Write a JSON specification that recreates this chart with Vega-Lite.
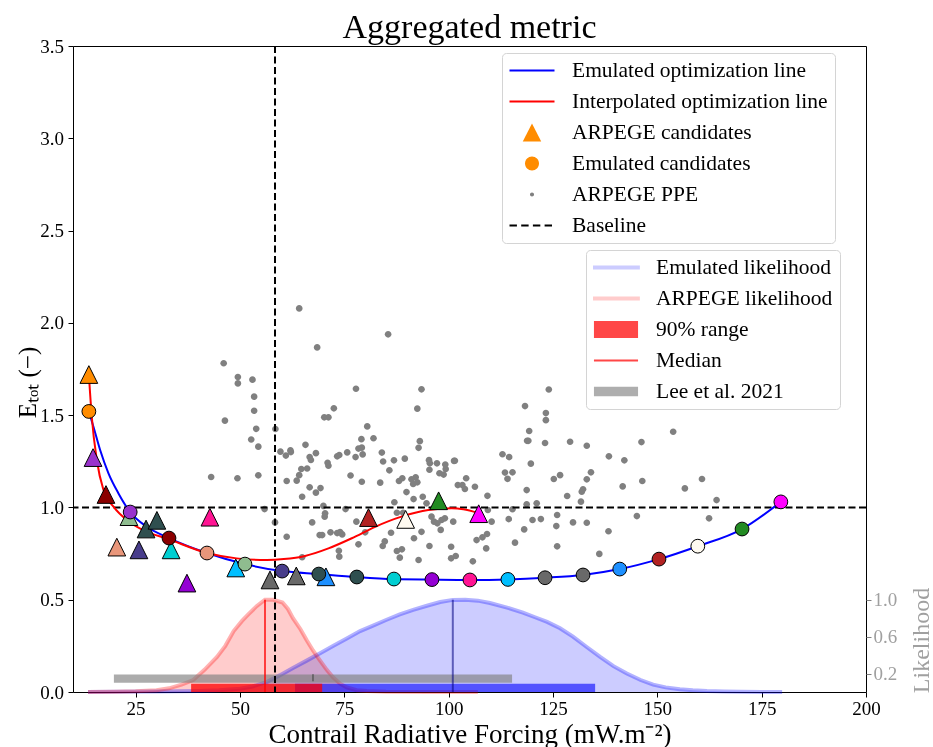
{
"$schema": "https://vega.github.io/schema/vega-lite/v6.json",
"width": 793, "height": 646,
"autosize": {"type": "none"},
"padding": {"left": 73, "top": 46, "right": 67, "bottom": 55},
"background": "white",
"title": {"text": "Aggregated metric", "frame": "group", "anchor": "middle", "baseline": "alphabetic", "offset": 9, "dy": 44, "fontSize": 34, "font": "Liberation Serif", "fontWeight": "normal", "color": "black"},
"config": {
  "font": "Liberation Serif",
  "view": {"stroke": "black", "strokeWidth": 1},
  "axis": {"grid": false, "domain": false, "tickColor": "black", "tickSize": 5, "tickWidth": 1, "labelFont": "Liberation Serif", "labelFontSize": 19, "labelColor": "black", "titleFont": "Liberation Serif", "titleFontSize": 25, "titleFontWeight": "normal", "titleColor": "black", "labelFlush": false, "labelOverlap": false},
  "legend": {"labelFont": "Liberation Serif", "labelFontSize": 21.5, "labelColor": "black", "labelLimit": 400, "symbolSize": 2025, "clipHeight": 21, "symbolOffset": 0, "labelOffset": 17, "rowPadding": 9, "padding": 7, "fillColor": "white", "strokeColor": "#d4d4d4", "cornerRadius": 4, "symbolStrokeWidth": 1, "orient": "none"}
},
"datasets": {
  "ppe": [
    {"series":"ARPEGE PPE","x":46.1,"y":1.781},{"series":"ARPEGE PPE","x":49.5,"y":1.706},{"series":"ARPEGE PPE","x":49.5,"y":1.672},{"series":"ARPEGE PPE","x":53.0,"y":1.692},{"series":"ARPEGE PPE","x":53.4,"y":1.600},{"series":"ARPEGE PPE","x":53.4,"y":1.524},{"series":"ARPEGE PPE","x":46.4,"y":1.470},{"series":"ARPEGE PPE","x":53.9,"y":1.426},{"series":"ARPEGE PPE","x":52.7,"y":1.368},{"series":"ARPEGE PPE","x":54.4,"y":1.329},
    {"series":"ARPEGE PPE","x":43.1,"y":1.165},{"series":"ARPEGE PPE","x":49.4,"y":1.158},{"series":"ARPEGE PPE","x":54.4,"y":1.174},{"series":"ARPEGE PPE","x":55.9,"y":0.991},{"series":"ARPEGE PPE","x":58.4,"y":0.919},{"series":"ARPEGE PPE","x":58.5,"y":1.425},{"series":"ARPEGE PPE","x":61.2,"y":0.841},{"series":"ARPEGE PPE","x":64.9,"y":0.730},{"series":"ARPEGE PPE","x":64.2,"y":2.078},{"series":"ARPEGE PPE","x":85.5,"y":1.938},
    {"series":"ARPEGE PPE","x":68.5,"y":1.867},{"series":"ARPEGE PPE","x":77.8,"y":1.643},{"series":"ARPEGE PPE","x":93.5,"y":1.640},{"series":"ARPEGE PPE","x":72.5,"y":1.537},{"series":"ARPEGE PPE","x":70.2,"y":1.488},{"series":"ARPEGE PPE","x":71.2,"y":1.488},{"series":"ARPEGE PPE","x":92.5,"y":1.535},{"series":"ARPEGE PPE","x":80.5,"y":1.439},{"series":"ARPEGE PPE","x":65.7,"y":1.339},{"series":"ARPEGE PPE","x":79.1,"y":1.370},
    {"series":"ARPEGE PPE","x":82.0,"y":1.375},{"series":"ARPEGE PPE","x":93.1,"y":1.359},{"series":"ARPEGE PPE","x":92.8,"y":1.323},{"series":"ARPEGE PPE","x":59.7,"y":1.302},{"series":"ARPEGE PPE","x":61.0,"y":1.281},{"series":"ARPEGE PPE","x":62.1,"y":1.309},{"series":"ARPEGE PPE","x":62.2,"y":1.300},{"series":"ARPEGE PPE","x":68.2,"y":1.294},{"series":"ARPEGE PPE","x":66.7,"y":1.273},{"series":"ARPEGE PPE","x":67.0,"y":1.257},
    {"series":"ARPEGE PPE","x":78.4,"y":1.319},{"series":"ARPEGE PPE","x":79.2,"y":1.324},{"series":"ARPEGE PPE","x":79.4,"y":1.287},{"series":"ARPEGE PPE","x":77.7,"y":1.273},{"series":"ARPEGE PPE","x":75.7,"y":1.298},{"series":"ARPEGE PPE","x":73.3,"y":1.277},{"series":"ARPEGE PPE","x":73.8,"y":1.284},{"series":"ARPEGE PPE","x":71.0,"y":1.242},{"series":"ARPEGE PPE","x":71.2,"y":1.226},{"series":"ARPEGE PPE","x":84.0,"y":1.297},
    {"series":"ARPEGE PPE","x":84.3,"y":1.249},{"series":"ARPEGE PPE","x":86.9,"y":1.255},{"series":"ARPEGE PPE","x":89.5,"y":1.264},{"series":"ARPEGE PPE","x":85.8,"y":1.201},{"series":"ARPEGE PPE","x":64.7,"y":1.208},{"series":"ARPEGE PPE","x":66.1,"y":1.211},{"series":"ARPEGE PPE","x":95.3,"y":1.256},{"series":"ARPEGE PPE","x":95.5,"y":1.239},{"series":"ARPEGE PPE","x":97.2,"y":1.239},{"series":"ARPEGE PPE","x":99.2,"y":1.232},
    {"series":"ARPEGE PPE","x":99.3,"y":1.208},{"series":"ARPEGE PPE","x":101.3,"y":1.252},{"series":"ARPEGE PPE","x":95.4,"y":1.204},{"series":"ARPEGE PPE","x":97.8,"y":1.185},{"series":"ARPEGE PPE","x":98.8,"y":1.178},{"series":"ARPEGE PPE","x":64.2,"y":1.175},{"series":"ARPEGE PPE","x":76.5,"y":1.173},{"series":"ARPEGE PPE","x":61.2,"y":1.143},{"series":"ARPEGE PPE","x":63.6,"y":1.145},{"series":"ARPEGE PPE","x":66.7,"y":1.109},
    {"series":"ARPEGE PPE","x":64.9,"y":1.058},{"series":"ARPEGE PPE","x":68.2,"y":1.080},{"series":"ARPEGE PPE","x":69.3,"y":1.105},{"series":"ARPEGE PPE","x":79.2,"y":1.139},{"series":"ARPEGE PPE","x":83.6,"y":1.134},{"series":"ARPEGE PPE","x":88.1,"y":1.143},{"series":"ARPEGE PPE","x":88.9,"y":1.158},{"series":"ARPEGE PPE","x":91.1,"y":1.152},{"series":"ARPEGE PPE","x":91.5,"y":1.127},{"series":"ARPEGE PPE","x":92.1,"y":1.163},
    {"series":"ARPEGE PPE","x":92.5,"y":1.136},{"series":"ARPEGE PPE","x":89.9,"y":1.083},{"series":"ARPEGE PPE","x":87.0,"y":1.028},{"series":"ARPEGE PPE","x":91.6,"y":1.045},{"series":"ARPEGE PPE","x":102.2,"y":1.121},{"series":"ARPEGE PPE","x":93.8,"y":1.058},{"series":"ARPEGE PPE","x":94.7,"y":1.022},{"series":"ARPEGE PPE","x":97.8,"y":1.028},{"series":"ARPEGE PPE","x":67.3,"y":0.919},{"series":"ARPEGE PPE","x":70.4,"y":0.968},
    {"series":"ARPEGE PPE","x":70.3,"y":0.950},{"series":"ARPEGE PPE","x":70.0,"y":1.008},{"series":"ARPEGE PPE","x":75.3,"y":0.991},{"series":"ARPEGE PPE","x":77.9,"y":0.923},{"series":"ARPEGE PPE","x":69.1,"y":0.850},{"series":"ARPEGE PPE","x":69.7,"y":0.850},{"series":"ARPEGE PPE","x":71.7,"y":0.865},{"series":"ARPEGE PPE","x":73.3,"y":0.861},{"series":"ARPEGE PPE","x":74.0,"y":0.867},{"series":"ARPEGE PPE","x":74.5,"y":0.854},
    {"series":"ARPEGE PPE","x":73.7,"y":0.765},{"series":"ARPEGE PPE","x":73.8,"y":0.733},{"series":"ARPEGE PPE","x":80.0,"y":0.865},{"series":"ARPEGE PPE","x":78.4,"y":0.800},{"series":"ARPEGE PPE","x":84.2,"y":0.791},{"series":"ARPEGE PPE","x":84.7,"y":0.816},{"series":"ARPEGE PPE","x":86.2,"y":0.863},{"series":"ARPEGE PPE","x":87.6,"y":0.764},{"series":"ARPEGE PPE","x":88.8,"y":0.773},{"series":"ARPEGE PPE","x":88.3,"y":0.728},
    {"series":"ARPEGE PPE","x":92.8,"y":0.715},{"series":"ARPEGE PPE","x":93.5,"y":0.868},{"series":"ARPEGE PPE","x":91.7,"y":0.833},{"series":"ARPEGE PPE","x":95.4,"y":0.791},{"series":"ARPEGE PPE","x":95.9,"y":0.950},{"series":"ARPEGE PPE","x":96.5,"y":0.923},{"series":"ARPEGE PPE","x":97.3,"y":0.914},{"series":"ARPEGE PPE","x":98.3,"y":0.932},{"series":"ARPEGE PPE","x":99.1,"y":0.941},{"series":"ARPEGE PPE","x":98.1,"y":0.878},
    {"series":"ARPEGE PPE","x":101.1,"y":0.923},{"series":"ARPEGE PPE","x":100.6,"y":0.787},{"series":"ARPEGE PPE","x":100.6,"y":0.724},{"series":"ARPEGE PPE","x":101.7,"y":0.737},{"series":"ARPEGE PPE","x":87.6,"y":0.971},{"series":"ARPEGE PPE","x":89.1,"y":0.971},{"series":"ARPEGE PPE","x":101.5,"y":1.253},{"series":"ARPEGE PPE","x":104.2,"y":1.158},{"series":"ARPEGE PPE","x":103.3,"y":1.121},{"series":"ARPEGE PPE","x":103.9,"y":1.100},
    {"series":"ARPEGE PPE","x":106.3,"y":1.112},{"series":"ARPEGE PPE","x":113.5,"y":1.189},{"series":"ARPEGE PPE","x":115.3,"y":1.190},{"series":"ARPEGE PPE","x":114.1,"y":1.155},{"series":"ARPEGE PPE","x":109.3,"y":1.063},{"series":"ARPEGE PPE","x":109.4,"y":0.986},{"series":"ARPEGE PPE","x":110.3,"y":0.923},{"series":"ARPEGE PPE","x":115.3,"y":0.990},{"series":"ARPEGE PPE","x":114.4,"y":0.937},{"series":"ARPEGE PPE","x":118.7,"y":1.094},
    {"series":"ARPEGE PPE","x":118.7,"y":1.017},{"series":"ARPEGE PPE","x":121.1,"y":1.022},{"series":"ARPEGE PPE","x":120.1,"y":0.932},{"series":"ARPEGE PPE","x":122.1,"y":0.937},{"series":"ARPEGE PPE","x":118.1,"y":0.881},{"series":"ARPEGE PPE","x":115.9,"y":0.809},{"series":"ARPEGE PPE","x":106.7,"y":0.823},{"series":"ARPEGE PPE","x":108.1,"y":0.838},{"series":"ARPEGE PPE","x":109.2,"y":0.856},{"series":"ARPEGE PPE","x":109.0,"y":0.778},
    {"series":"ARPEGE PPE","x":105.8,"y":0.708},{"series":"ARPEGE PPE","x":125.2,"y":1.154},{"series":"ARPEGE PPE","x":126.7,"y":1.175},{"series":"ARPEGE PPE","x":134.1,"y":1.190},{"series":"ARPEGE PPE","x":133.1,"y":1.152},{"series":"ARPEGE PPE","x":128.4,"y":1.062},{"series":"ARPEGE PPE","x":131.9,"y":1.085},{"series":"ARPEGE PPE","x":132.2,"y":1.098},{"series":"ARPEGE PPE","x":131.7,"y":1.031},{"series":"ARPEGE PPE","x":126.0,"y":0.959},
    {"series":"ARPEGE PPE","x":125.8,"y":0.899},{"series":"ARPEGE PPE","x":126.0,"y":0.789},{"series":"ARPEGE PPE","x":129.8,"y":0.919},{"series":"ARPEGE PPE","x":133.1,"y":0.917},{"series":"ARPEGE PPE","x":138.3,"y":0.871},{"series":"ARPEGE PPE","x":136.1,"y":0.748},{"series":"ARPEGE PPE","x":141.7,"y":1.114},{"series":"ARPEGE PPE","x":146.4,"y":1.143},{"series":"ARPEGE PPE","x":145.1,"y":0.953},{"series":"ARPEGE PPE","x":156.6,"y":1.103},
    {"series":"ARPEGE PPE","x":160.7,"y":1.154},{"series":"ARPEGE PPE","x":164.2,"y":1.040},{"series":"ARPEGE PPE","x":162.4,"y":0.941},{"series":"ARPEGE PPE","x":124.0,"y":1.639},{"series":"ARPEGE PPE","x":118.3,"y":1.549},{"series":"ARPEGE PPE","x":123.3,"y":1.511},{"series":"ARPEGE PPE","x":123.3,"y":1.473},{"series":"ARPEGE PPE","x":119.3,"y":1.414},{"series":"ARPEGE PPE","x":118.8,"y":1.361},{"series":"ARPEGE PPE","x":119.1,"y":1.361},
    {"series":"ARPEGE PPE","x":123.1,"y":1.349},{"series":"ARPEGE PPE","x":129.1,"y":1.356},{"series":"ARPEGE PPE","x":133.1,"y":1.334},{"series":"ARPEGE PPE","x":146.2,"y":1.354},{"series":"ARPEGE PPE","x":153.8,"y":1.410},{"series":"ARPEGE PPE","x":112.9,"y":1.288},{"series":"ARPEGE PPE","x":114.5,"y":1.273},{"series":"ARPEGE PPE","x":119.7,"y":1.237},{"series":"ARPEGE PPE","x":138.4,"y":1.277},{"series":"ARPEGE PPE","x":142.1,"y":1.255}
  ],
  "emu_line": [
    {"x":13.8,"y":1.52},{"x":14.9,"y":1.437},{"x":16.5,"y":1.311},{"x":18.5,"y":1.185},{"x":20.9,"y":1.076},{"x":23.7,"y":0.975},{"x":27.7,"y":0.895},{"x":33.0,"y":0.834},{"x":42.1,"y":0.753},{"x":51.2,"y":0.693},{"x":60.1,"y":0.655},{"x":68.9,"y":0.639},{"x":78.0,"y":0.623},{"x":86.9,"y":0.612},{"x":96.0,"y":0.609},{"x":105.1,"y":0.607},{"x":114.2,"y":0.610},{"x":123.1,"y":0.619},{"x":132.2,"y":0.634},{"x":141.0,"y":0.666},{"x":150.4,"y":0.720},{"x":159.7,"y":0.790},{"x":170.3,"y":0.883},{"x":179.6,"y":1.030}
  ],
  "interp_line": [
    {"x":13.8,"y":1.72},{"x":14.5,"y":1.49},{"x":15.7,"y":1.257},{"x":17.3,"y":1.094},{"x":19.7,"y":1.004},{"x":22.9,"y":0.932},{"x":26.8,"y":0.877},{"x":33.0,"y":0.827},{"x":42.1,"y":0.753},{"x":49.2,"y":0.724},{"x":56.4,"y":0.715},{"x":60.5,"y":0.72},{"x":65.6,"y":0.737},{"x":71.2,"y":0.778},{"x":76.8,"y":0.833},{"x":82.4,"y":0.895},{"x":88.7,"y":0.95},{"x":95.1,"y":0.986},{"x":100.7,"y":0.995},{"x":103.5,"y":0.99},{"x":107.1,"y":0.97}
  ],
  "arpege_cand": [
    {"id":1,"x":13.8,"y":1.72},{"id":2,"x":14.8,"y":1.27},{"id":3,"x":17.9,"y":1.07},{"id":4,"x":20.5,"y":0.785},{"id":5,"x":23.4,"y":0.95},{"id":6,"x":25.8,"y":0.77},{"id":7,"x":27.5,"y":0.883},{"id":8,"x":30.1,"y":0.93},{"id":9,"x":33.5,"y":0.77},{"id":10,"x":37.3,"y":0.59},
    {"id":11,"x":42.8,"y":0.947},{"id":12,"x":49.0,"y":0.672},{"id":13,"x":57.2,"y":0.607},{"id":14,"x":63.5,"y":0.629},{"id":15,"x":70.6,"y":0.624},{"id":16,"x":80.8,"y":0.945},{"id":17,"x":89.7,"y":0.935},{"id":18,"x":97.6,"y":1.036},{"id":19,"x":107.2,"y":0.966}
  ],
  "emu_cand": [
    {"id":1,"x":13.8,"y":1.52},{"id":2,"x":23.7,"y":0.975},{"id":3,"x":33.0,"y":0.834},{"id":4,"x":42.1,"y":0.753},{"id":5,"x":51.2,"y":0.693},{"id":6,"x":60.1,"y":0.655},{"id":7,"x":68.9,"y":0.639},{"id":8,"x":78.0,"y":0.623},{"id":9,"x":86.9,"y":0.612},{"id":10,"x":96.0,"y":0.609},
    {"id":11,"x":105.1,"y":0.607},{"id":12,"x":114.2,"y":0.610},{"id":13,"x":123.1,"y":0.619},{"id":14,"x":132.2,"y":0.634},{"id":15,"x":141.0,"y":0.666},{"id":16,"x":150.4,"y":0.720},{"id":17,"x":159.7,"y":0.790},{"id":18,"x":170.3,"y":0.883},{"id":19,"x":179.6,"y":1.030}
  ],
  "baseline": [{"x": 58.4, "y": 1.0}],
  "lik": [
    {"series":"Emulated likelihood","x":13.6,"L":0},{"series":"Emulated likelihood","x":20,"L":0.002},{"series":"Emulated likelihood","x":30,"L":0.005},{"series":"Emulated likelihood","x":40,"L":0.012},{"series":"Emulated likelihood","x":45,"L":0.02},{"series":"Emulated likelihood","x":50,"L":0.035},{"series":"Emulated likelihood","x":53,"L":0.06},{"series":"Emulated likelihood","x":56.5,"L":0.11},{"series":"Emulated likelihood","x":59.5,"L":0.18},{"series":"Emulated likelihood","x":62.7,"L":0.26},
    {"series":"Emulated likelihood","x":66,"L":0.34},{"series":"Emulated likelihood","x":69.2,"L":0.42},{"series":"Emulated likelihood","x":72.4,"L":0.5},{"series":"Emulated likelihood","x":75.6,"L":0.58},{"series":"Emulated likelihood","x":78.8,"L":0.66},{"series":"Emulated likelihood","x":81.9,"L":0.72},{"series":"Emulated likelihood","x":85,"L":0.78},{"series":"Emulated likelihood","x":88.3,"L":0.84},{"series":"Emulated likelihood","x":91.5,"L":0.89},{"series":"Emulated likelihood","x":94.8,"L":0.935},
    {"series":"Emulated likelihood","x":98,"L":0.975},{"series":"Emulated likelihood","x":101,"L":0.998},{"series":"Emulated likelihood","x":104,"L":1.0},{"series":"Emulated likelihood","x":107,"L":0.99},{"series":"Emulated likelihood","x":109.9,"L":0.965},{"series":"Emulated likelihood","x":114,"L":0.915},{"series":"Emulated likelihood","x":117.8,"L":0.86},{"series":"Emulated likelihood","x":120.7,"L":0.81},{"series":"Emulated likelihood","x":123.6,"L":0.76},{"series":"Emulated likelihood","x":126.7,"L":0.69},
    {"series":"Emulated likelihood","x":129.8,"L":0.6},{"series":"Emulated likelihood","x":133,"L":0.49},{"series":"Emulated likelihood","x":136.3,"L":0.38},{"series":"Emulated likelihood","x":139.5,"L":0.28},{"series":"Emulated likelihood","x":142.7,"L":0.2},{"series":"Emulated likelihood","x":146,"L":0.13},{"series":"Emulated likelihood","x":149,"L":0.08},{"series":"Emulated likelihood","x":152,"L":0.05},{"series":"Emulated likelihood","x":155.4,"L":0.03},{"series":"Emulated likelihood","x":158.5,"L":0.018},
    {"series":"Emulated likelihood","x":161.9,"L":0.01},{"series":"Emulated likelihood","x":166,"L":0.005},{"series":"Emulated likelihood","x":170,"L":0.003},{"series":"Emulated likelihood","x":175,"L":0.001},{"series":"Emulated likelihood","x":179.9,"L":0},
    {"series":"ARPEGE likelihood","x":13.6,"L":0},{"series":"ARPEGE likelihood","x":20,"L":0.003},{"series":"ARPEGE likelihood","x":25,"L":0.008},{"series":"ARPEGE likelihood","x":30,"L":0.02},{"series":"ARPEGE likelihood","x":33,"L":0.04},{"series":"ARPEGE likelihood","x":36,"L":0.08},{"series":"ARPEGE likelihood","x":38.8,"L":0.13},{"series":"ARPEGE likelihood","x":41.5,"L":0.24},{"series":"ARPEGE likelihood","x":44.5,"L":0.38},{"series":"ARPEGE likelihood","x":46.5,"L":0.5},
    {"series":"ARPEGE likelihood","x":48.5,"L":0.66},{"series":"ARPEGE likelihood","x":50.5,"L":0.77},{"series":"ARPEGE likelihood","x":52,"L":0.84},{"series":"ARPEGE likelihood","x":54,"L":0.93},{"series":"ARPEGE likelihood","x":56,"L":1.0},{"series":"ARPEGE likelihood","x":58,"L":1.0},{"series":"ARPEGE likelihood","x":60.2,"L":0.97},{"series":"ARPEGE likelihood","x":61.5,"L":0.9},{"series":"ARPEGE likelihood","x":62.7,"L":0.8},{"series":"ARPEGE likelihood","x":64.5,"L":0.68},
    {"series":"ARPEGE likelihood","x":66,"L":0.56},{"series":"ARPEGE likelihood","x":67.5,"L":0.45},{"series":"ARPEGE likelihood","x":69.2,"L":0.34},{"series":"ARPEGE likelihood","x":70.8,"L":0.24},{"series":"ARPEGE likelihood","x":72.3,"L":0.16},{"series":"ARPEGE likelihood","x":74,"L":0.09},{"series":"ARPEGE likelihood","x":75.6,"L":0.05},{"series":"ARPEGE likelihood","x":78,"L":0.02},{"series":"ARPEGE likelihood","x":80.4,"L":0.01},{"series":"ARPEGE likelihood","x":85,"L":0.003},
    {"series":"ARPEGE likelihood","x":95,"L":0.001},{"series":"ARPEGE likelihood","x":107,"L":0}
  ],
  "lee": [{"x": 19.8, "x2": 115.2, "L": 0.1, "L2": 0.19}],
  "lee_mark": [{"series": "Lee marker", "x": 67.5, "L": 0.155}],
  "range_emu": [{"x": 63.2, "x2": 135.1, "L": 0, "L2": 0.09}],
  "range_arpege": [{"x": 38.3, "x2": 69.7, "L": 0, "L2": 0.09}],
  "median_emu": [{"x": 101.0, "L": 0, "L2": 1.0}],
  "median_arpege": [{"x": 56.0, "L": 0, "L2": 1.0}]
},
"layer": [
  {
    "layer": [
      {
        "data": {"name": "lik"},
        "mark": {"type": "area", "interpolate": "linear", "opacity": 1, "blend": "multiply"},
        "encoding": {
          "x": {"field": "x", "type": "quantitative", "scale": {"domain": [10, 200], "nice": false, "zero": false},
                "axis": {"values": [25, 50, 75, 100, 125, 150, 175, 200], "title": "Contrail Radiative Forcing (mW.m⁻²)", "titleFontSize": 27, "titleBaseline": "alphabetic", "titleY": 50, "labelPadding": 2}},
          "y": {"field": "L", "type": "quantitative", "stack": null, "scale": {"domain": [0, 7], "nice": false, "zero": false},
                "axis": {"orient": "right", "values": [0.2, 0.6, 1.0], "format": ".1f", "title": "Likelihood", "titleColor": "#a0a0a0", "labelColor": "#a0a0a0", "tickColor": "#808080", "titleFontSize": 24, "titleAngle": 270, "titleBaseline": "alphabetic", "titleAlign": "center", "titleX": 62, "titleY": 594, "labelPadding": 2}},
          "color": {"field": "series", "type": "nominal",
                    "scale": {"domain": ["Emulated likelihood", "ARPEGE likelihood", "90% range", "Median", "Lee et al. 2021", "Lee marker"], "range": ["#ccccff", "#ffcccc", "#ff4747", "#ff4747", "#aeaeae", "#555555"]},
                    "legend": {"title": null, "orient": "none", "legendX": 513, "legendY": 204, "symbolFillColor": "#000000", "symbolOpacity": 1, "values": ["Emulated likelihood", "ARPEGE likelihood", "90% range", "Median", "Lee et al. 2021"]}}
        }
      },
      {
        "data": {"name": "lik"},
        "mark": {"type": "line", "strokeWidth": 4, "strokeOpacity": 0.3, "interpolate": "linear"},
        "encoding": {
          "x": {"field": "x", "type": "quantitative"},
          "y": {"field": "L", "type": "quantitative"},
          "stroke": {"field": "series", "type": "nominal", "legend": null,
                     "scale": {"domain": ["Emulated likelihood", "ARPEGE likelihood"], "range": ["#0000ff", "#ff0000"]}}
        }
      },
      {
        "data": {"name": "lee"},
        "mark": {"type": "rect", "color": "#808080", "opacity": 0.65},
        "encoding": {"x": {"field": "x", "type": "quantitative"}, "x2": {"field": "x2"}, "y": {"field": "L", "type": "quantitative"}, "y2": {"field": "L2"}}
      },
      {
        "data": {"name": "range_emu"},
        "mark": {"type": "rect", "color": "#0000ff", "opacity": 0.6},
        "encoding": {"x": {"field": "x", "type": "quantitative"}, "x2": {"field": "x2"}, "y": {"field": "L", "type": "quantitative"}, "y2": {"field": "L2"}}
      },
      {
        "data": {"name": "range_arpege"},
        "mark": {"type": "rect", "color": "#ff0000", "opacity": 0.75},
        "encoding": {"x": {"field": "x", "type": "quantitative"}, "x2": {"field": "x2"}, "y": {"field": "L", "type": "quantitative"}, "y2": {"field": "L2"}}
      },
      {
        "data": {"name": "lee_mark"},
        "mark": {"type": "point", "filled": true, "size": 49, "opacity": 1},
        "encoding": {
          "x": {"field": "x", "type": "quantitative"}, "y": {"field": "L", "type": "quantitative"},
          "color": {"field": "series", "type": "nominal",
                    "scale": {"domain": ["Emulated likelihood", "ARPEGE likelihood", "90% range", "Median", "Lee et al. 2021", "Lee marker"], "range": ["#ccccff", "#ffcccc", "#ff4747", "#ff4747", "#aeaeae", "#555555"]},
                    "legend": {"title": null, "orient": "none", "legendX": 513, "legendY": 204, "symbolFillColor": "#000000", "symbolOpacity": 1, "values": ["Emulated likelihood", "ARPEGE likelihood", "90% range", "Median", "Lee et al. 2021"]}},
          "shape": {"field": "series", "type": "nominal",
                    "scale": {"domain": ["Emulated likelihood", "ARPEGE likelihood", "90% range", "Median", "Lee et al. 2021", "Lee marker"],
                              "range": ["M-1.06,-0.09H1.06V0.09H-1.06Z", "M-1.06,-0.09H1.06V0.09H-1.06Z", "M-0.98,-0.38H0.98V0.38H-0.98Z", "M-0.98,-0.04H0.98V0.04H-0.98Z", "M-0.98,-0.21H0.98V0.21H-0.98Z", "M-0.2,-1H0.2V1H-0.2Z"]},
                    "legend": {"title": null, "orient": "none", "legendX": 513, "legendY": 204, "symbolFillColor": "#000000", "symbolOpacity": 1, "values": ["Emulated likelihood", "ARPEGE likelihood", "90% range", "Median", "Lee et al. 2021"]}}
        }
      },
      {
        "data": {"name": "median_emu"},
        "mark": {"type": "rule", "color": "#000080", "opacity": 0.55, "strokeWidth": 2},
        "encoding": {"x": {"field": "x", "type": "quantitative"}, "y": {"field": "L", "type": "quantitative"}, "y2": {"field": "L2"}}
      },
      {
        "data": {"name": "median_arpege"},
        "mark": {"type": "rule", "color": "#ff0000", "opacity": 0.7, "strokeWidth": 2},
        "encoding": {"x": {"field": "x", "type": "quantitative"}, "y": {"field": "L", "type": "quantitative"}, "y2": {"field": "L2"}}
      }
    ]
  },
  {
    "layer": [
      {
        "data": {"name": "ppe"},
        "mark": {"type": "point", "filled": true, "size": 5500, "opacity": 1},
        "encoding": {
          "x": {"field": "x", "type": "quantitative"},
          "y": {"field": "y", "type": "quantitative", "scale": {"domain": [0, 3.5], "nice": false, "zero": false},
                "axis": {"orient": "left", "values": [0, 0.5, 1, 1.5, 2, 2.5, 3, 3.5], "format": ".1f", "title": "Eₜₒₜ (−)", "titleAngle": 270, "titleBaseline": "alphabetic", "titleAlign": "center", "titleX": -38, "titleY": 336, "labelPadding": 4.5}},
          "color": {"field": "series", "type": "nominal",
                    "scale": {"domain": ["Emulated optimization line", "Interpolated optimization line", "ARPEGE candidates", "Emulated candidates", "ARPEGE PPE", "Baseline"], "range": ["#0000ff", "#ff0000", "#ff8c00", "#ff8c00", "#808080", "#000000"]},
                    "legend": {"title": null, "orient": "none", "legendX": 429, "legendY": 7, "symbolFillColor": "#000000"}},
          "shape": {"field": "series", "type": "nominal",
                    "scale": {"domain": ["Emulated optimization line", "Interpolated optimization line", "ARPEGE candidates", "Emulated candidates", "ARPEGE PPE", "Baseline"],
                              "range": ["M-1,-0.045H1V0.045H-1Z", "M-1,-0.045H1V0.045H-1Z", "M0,-0.4L-0.41,0.4L0.41,0.4Z", "M0.31,0A0.31,0.31,0,1,1,-0.31,0A0.31,0.31,0,1,1,0.31,0Z", "M0.09,0A0.09,0.09,0,1,1,-0.09,0A0.09,0.09,0,1,1,0.09,0Z", "M-1,-0.045H-0.67V0.045H-1Z M-0.48,-0.045H-0.15V0.045H-0.48Z M0.04,-0.045H0.37V0.045H0.04Z M0.56,-0.045H0.89V0.045H0.56Z"]},
                    "legend": {"title": null, "orient": "none", "legendX": 429, "legendY": 7, "symbolFillColor": "#000000"}}
        }
      },
      {
        "data": {"name": "baseline"},
        "mark": {"type": "rule", "color": "black", "strokeWidth": 2, "strokeDash": [7, 3.5]},
        "encoding": {"y": {"field": "y", "type": "quantitative"}}
      },
      {
        "data": {"name": "baseline"},
        "mark": {"type": "rule", "color": "black", "strokeWidth": 2, "strokeDash": [7, 3.5]},
        "encoding": {"x": {"field": "x", "type": "quantitative"}}
      },
      {
        "data": {"name": "emu_line"},
        "mark": {"type": "line", "color": "#0000ff", "strokeWidth": 2, "interpolate": "monotone"},
        "encoding": {"x": {"field": "x", "type": "quantitative"}, "y": {"field": "y", "type": "quantitative"}}
      },
      {
        "data": {"name": "interp_line"},
        "mark": {"type": "line", "color": "#ff0000", "strokeWidth": 2, "interpolate": "monotone"},
        "encoding": {"x": {"field": "x", "type": "quantitative"}, "y": {"field": "y", "type": "quantitative"}}
      },
      {
        "data": {"name": "arpege_cand"},
        "mark": {"type": "point", "shape": "M0,-1L-1,1L1,1Z", "size": 313, "filled": true, "stroke": "black", "strokeWidth": 1, "opacity": 1},
        "encoding": {
          "x": {"field": "x", "type": "quantitative"}, "y": {"field": "y", "type": "quantitative"},
          "fill": {"field": "id", "type": "nominal", "legend": null,
                   "scale": {"domain": [1,2,3,4,5,6,7,8,9,10,11,12,13,14,15,16,17,18,19],
                             "range": ["#ff8c00","#9932cc","#8b0000","#e9967a","#8fbc8f","#483d8b","#2f4f4f","#2f4f4f","#00ced1","#9400d3","#ff1493","#00bfff","#696969","#696969","#1e90ff","#b22222","#fffaf0","#228b22","#ff00ff"]}}
        }
      },
      {
        "data": {"name": "emu_cand"},
        "mark": {"type": "point", "shape": "circle", "size": 190, "filled": true, "stroke": "black", "strokeWidth": 1, "opacity": 1},
        "encoding": {
          "x": {"field": "x", "type": "quantitative"}, "y": {"field": "y", "type": "quantitative"},
          "fill": {"field": "id", "type": "nominal", "legend": null}
        }
      }
    ]
  }
],
"resolve": {"scale": {"y": "independent", "color": "independent", "shape": "independent"}, "axis": {"y": "independent"}, "legend": {"color": "independent", "shape": "independent"}}
}
